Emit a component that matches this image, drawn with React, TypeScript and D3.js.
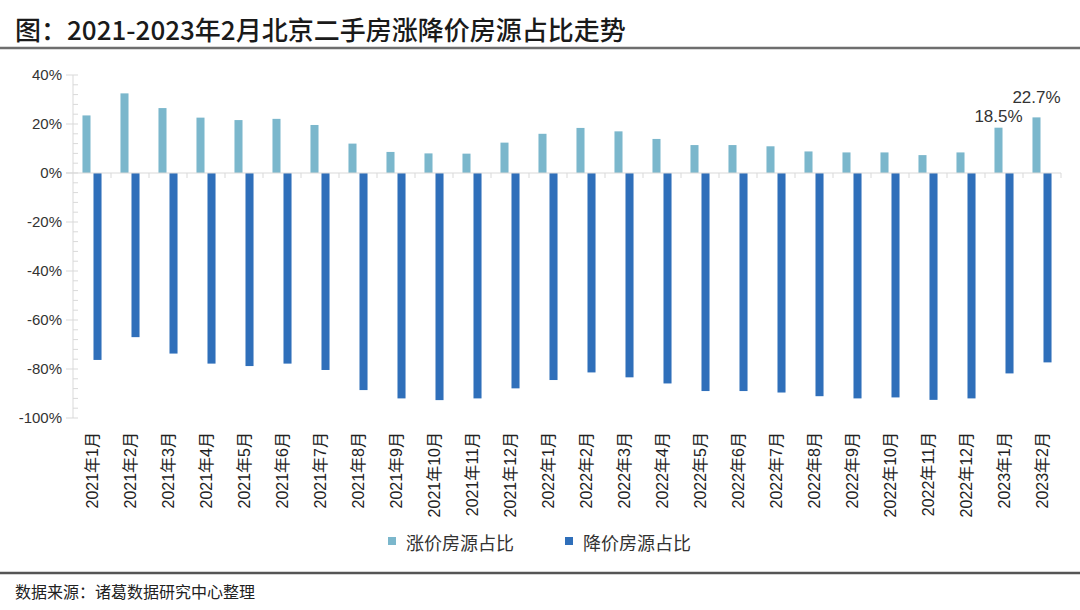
import * as d3 from 'd3';
import { useMemo } from 'react';

const months = [
  '2021年1月', '2021年2月', '2021年3月', '2021年4月', '2021年5月', '2021年6月',
  '2021年7月', '2021年8月', '2021年9月', '2021年10月', '2021年11月', '2021年12月',
  '2022年1月', '2022年2月', '2022年3月', '2022年4月', '2022年5月', '2022年6月',
  '2022年7月', '2022年8月', '2022年9月', '2022年10月', '2022年11月', '2022年12月',
  '2023年1月', '2023年2月',
];

// 涨价房源占比 (%)
const upShare = [
  23.5, 32.5, 26.5, 22.6, 21.6, 22.1, 19.6, 12.0, 8.6, 8.0, 7.9, 12.4,
  16.0, 18.4, 17.0, 13.9, 11.4, 11.4, 10.9, 8.8, 8.4, 8.4, 7.3, 8.4,
  18.5, 22.7,
];

// 降价房源占比 (%)
const downShare = [
  -76.3, -67.0, -73.7, -77.8, -78.8, -77.8, -80.4, -88.6, -92.0, -92.7, -92.0, -87.9,
  -84.5, -81.4, -83.4, -85.9, -89.0, -89.0, -89.6, -91.1, -92.0, -91.6, -92.6, -92.0,
  -81.8, -77.3,
];

const seriesNames = ['涨价房源占比', '降价房源占比'];
const seriesColors = ['#7bb7cc', '#2f6fba'];
const yTicks = [40, 20, 0, -20, -40, -60, -80, -100];
const labelled = [24, 25]; // only the last two months carry a label

const W = 1080;
const H = 610;
const M = { left: 73, right: 1061, top: 75, bottom: 418 };

export default function App() {
  const x = useMemo(() => d3.scaleBand<string>().domain(months).range([M.left, M.right]), []);
  const inner = useMemo(
    () => d3.scaleBand<string>().domain(seriesNames).range([0, x.bandwidth()])
      .paddingInner(0.27).paddingOuter(0.86),
    [x]
  );
  const y = useMemo(() => d3.scaleLinear().domain([-100, 40]).range([M.bottom, M.top]), []);
  const minor = d3.range(-100, 41, 4);
  const fmt = (v: number) => `${v < 0 ? '-' : ''}${Math.abs(v)}%`;
  const cjk = '"Noto Sans CJK SC", sans-serif';
  const latin = '"Liberation Sans", Arial, "Noto Sans CJK SC", sans-serif';
  const axisColor = '#d9d9d9';
  const zero = y(0);

  return (
    <svg width={W} height={H} style={{ position: 'absolute', left: 0, top: 0, background: '#fff' }}>
      {/* title */}
      <text x={15} y={40} fontFamily={cjk} fontSize={26} fontWeight={500} fill="#1a1a1a">
        图：2021-2023年2月北京二手房涨降价房源占比走势
      </text>
      <line x1={0} x2={W} y1={48} y2={48} stroke="#6e6e6e" strokeWidth={2.5} />

      {/* y axis */}
      <line x1={M.left} x2={M.left} y1={y(40)} y2={y(-100)} stroke={axisColor} />
      {minor.map(v => (
        <line key={'m' + v} x1={M.left} x2={M.left + 5} y1={y(v)} y2={y(v)} stroke={axisColor} />
      ))}
      {yTicks.map(v => (
        <g key={v}>
          <line x1={M.left - 7} x2={M.left} y1={y(v)} y2={y(v)} stroke={axisColor} />
          <text x={62} y={y(v)} dy="0.35em" textAnchor="end" fontFamily={latin} fontSize={15} fill="#333">
            {fmt(v)}
          </text>
        </g>
      ))}

      {/* bars */}
      {months.map((m, i) => (
        <g key={m}>
          <rect x={(x(m) ?? 0) + (inner(seriesNames[0]) ?? 0)} width={inner.bandwidth()}
            y={y(upShare[i])} height={zero - y(upShare[i])} fill={seriesColors[0]} />
          <rect x={(x(m) ?? 0) + (inner(seriesNames[1]) ?? 0)} width={inner.bandwidth()}
            y={zero} height={y(downShare[i]) - zero} fill={seriesColors[1]} />
        </g>
      ))}

      {/* x axis at zero */}
      <line x1={M.left - 7} x2={M.right} y1={zero} y2={zero} stroke={axisColor} />
      {months.map(m => (
        <line key={'t' + m} x1={(x(m) ?? 0) + x.bandwidth()} x2={(x(m) ?? 0) + x.bandwidth()}
          y1={zero} y2={zero + 5} stroke={axisColor} />
      ))}

      {/* category labels */}
      {months.map(m => {
        const cx = (x(m) ?? 0) + x.bandwidth() / 2;
        return (
          <text key={'l' + m} transform={`translate(${cx + 5.5},432) rotate(-90)`} textAnchor="end"
            fontFamily={latin} fontSize={16} fill="#222">
            {m}
          </text>
        );
      })}

      {/* data labels */}
      {labelled.map((i, k) => {
        const cx = (x(months[i]) ?? 0) + (inner(seriesNames[0]) ?? 0) + inner.bandwidth() / 2;
        return (
          <text key={'d' + i} x={cx} y={y(upShare[i]) - (k === 0 ? 6 : 14)} textAnchor="middle"
            fontFamily={latin} fontSize={17} fill="#333">
            {upShare[i].toFixed(1)}%
          </text>
        );
      })}

      {/* legend */}
      {seriesNames.map((s, i) => {
        const lx = 388 + i * 177;
        return (
          <g key={s}>
            <rect x={lx} y={537} width={8} height={8} fill={seriesColors[i]} />
            <text x={lx + 18} y={544} dy="0.35em" fontFamily={cjk} fontSize={18} fill="#333">{s}</text>
          </g>
        );
      })}

      {/* footer */}
      <line x1={0} x2={W} y1={573} y2={573} stroke="#555" strokeWidth={2.5} />
      <text x={15} y={598} fontFamily={cjk} fontSize={16} fill="#222">数据来源：诸葛数据研究中心整理</text>
    </svg>
  );
}
